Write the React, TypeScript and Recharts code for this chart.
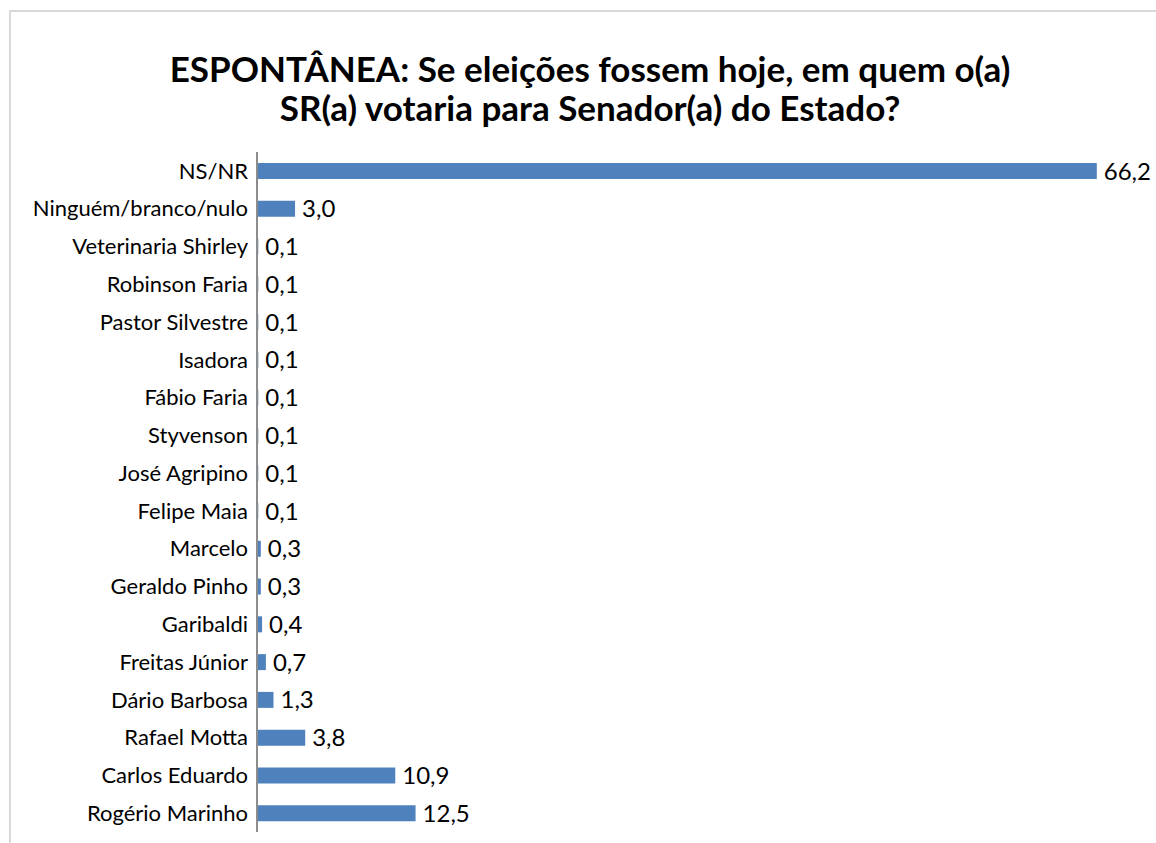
import { BarChart, Bar, XAxis, YAxis, LabelList } from "recharts"

const candidates = [
  "NS/NR",
  "Ninguém/branco/nulo",
  "Veterinaria Shirley",
  "Robinson Faria",
  "Pastor Silvestre",
  "Isadora",
  "Fábio Faria",
  "Styvenson",
  "José Agripino",
  "Felipe Maia",
  "Marcelo",
  "Geraldo Pinho",
  "Garibaldi",
  "Freitas Júnior",
  "Dário Barbosa",
  "Rafael Motta",
  "Carlos Eduardo",
  "Rogério Marinho",
]

const percents = [66.2, 3.0, 0.1, 0.1, 0.1, 0.1, 0.1, 0.1, 0.1, 0.1, 0.3, 0.3, 0.4, 0.7, 1.3, 3.8, 10.9, 12.5]

const chartData = candidates.map((name, i) => ({ name, value: percents[i] }))

const FONT = "Lato, 'Noto Sans', sans-serif"

const fmt = (v: any) => Number(v).toFixed(1).replace(".", ",")

export default function App() {
  return (
    <div style={{ position: "absolute", left: 0, top: 0, width: 1156, height: 843, background: "#fff", overflow: "hidden", fontFamily: FONT }}>
      {/* chart area border */}
      <div style={{ position: "absolute", left: 9, top: 10, width: 1160, height: 860, border: "2px solid #d9d9d9" }} />

      {/* Title */}
      <div
        style={{
          position: "absolute",
          left: 0,
          top: 49,
          width: 1180,
          textAlign: "center",
          fontWeight: 700,
          fontSize: 35,
          lineHeight: "39px",
          color: "#000",
        }}
      >
        ESPONTÂNEA: Se eleições fossem hoje, em quem o(a)
        <br />
        SR(a) votaria para Senador(a) do Estado?
      </div>

      <div style={{ position: "absolute", left: 0, top: 0 }}>
        <BarChart
          width={1156}
          height={843}
          data={chartData}
          layout="vertical"
          margin={{ top: 152, right: 11, bottom: 11, left: 0 }}
        >
          <XAxis type="number" domain={[0, 70]} hide />
          <YAxis
            type="category"
            dataKey="name"
            width={257}
            axisLine={{ stroke: "#8c8c8c", strokeWidth: 2 }}
            tickLine={false}
            interval={0}
            tick={{ fontSize: 22, fill: "#000", fontFamily: FONT }}
            tickMargin={3}
          />
          <Bar dataKey="value" fill="#4f81bd" barSize={16} isAnimationActive={false}>
            <LabelList
              dataKey="value"
              position="right"
              offset={7}
              formatter={fmt}
              style={{ fontSize: 24, fill: "#000", fontFamily: FONT }}
            />
          </Bar>
        </BarChart>
      </div>
    </div>
  )
}
